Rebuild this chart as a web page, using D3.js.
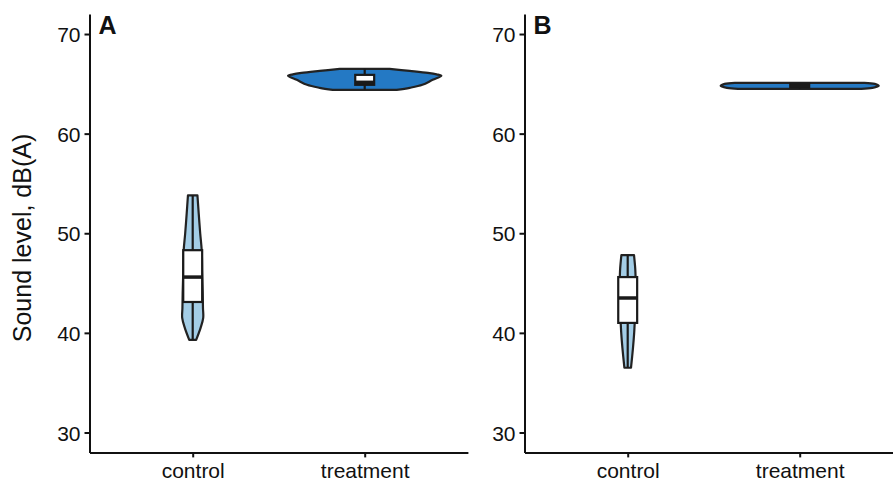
<!DOCTYPE html>
<html>
<head>
<meta charset="utf-8">
<script src="https://cdn.jsdelivr.net/npm/d3@7"></script>
<style>
  body { margin: 0; background: #fff; }
  text { font-family: "Liberation Sans", Arial, Helvetica, sans-serif; }
</style>
</head>
<body>
<svg width="893" height="483"></svg>
<script>
let categories = ['control', 'treatment'];
let panels = ['A', 'B'];
let yTicks = [30, 40, 50, 60, 70];

// violin profiles: [sound level, relative density]
let violinA_control = [[53.8, 0.06], [52, 0.076], [50, 0.095], [48.3, 0.114], [46, 0.12], [44, 0.127], [42.5, 0.13], [41.5, 0.133], [40.5, 0.10], [39.3, 0.044]];
let violinA_treatment = [[66.5, 0.316], [66.3, 0.57], [66.1, 0.80], [65.95, 0.91], [65.8, 0.97], [65.4, 0.86], [64.9, 0.73], [64.6, 0.57], [64.4, 0.405]];
let violinB_control = [[47.8, 0.08], [46.5, 0.095], [45.6, 0.10], [44, 0.108], [42, 0.10], [41, 0.089], [40, 0.082], [38.5, 0.067], [36.5, 0.042]];
let violinB_treatment = [[65.1, 0.82], [65.0, 0.95], [64.8, 1.0], [64.6, 0.92], [64.5, 0.78]];

// box stats: [min, q1, median, q3, max]
let boxA_control = [39.3, 43.1, 45.6, 48.3, 53.8];
let boxA_treatment = [64.4, 64.9, 65.15, 65.9, 66.5];
let boxB_control = [36.5, 41.0, 43.5, 45.6, 47.8];
let boxB_treatment = [64.5, 64.65, 64.85, 65.0, 65.1];

let fills = {control: '#a3cde6', treatment: '#2479c4'};

let violins = {A: [violinA_control, violinA_treatment], B: [violinB_control, violinB_treatment]};
let boxes = {A: [boxA_control, boxA_treatment], B: [boxB_control, boxB_treatment]};

let svg = d3.select('svg');

let y = d3.scaleLinear().domain([28, 72]).range([452.4, 14.1]);
let w = d3.scaleLinear().domain([0, 1]).range([0, 79]);

let panelX = {A: 89.5, B: 524.5};
let panelW = 378.4;
let fontSize = 21;

panels.forEach(p => {
  let x0 = panelX[p];
  let x = d3.scalePoint().domain(categories).range([x0, x0 + panelW]).padding(0.6);
  let step = x.step();
  let g = svg.append('g').attr('class', 'panel' + p);

  // violins
  categories.forEach((c, i) => {
    let cx = x(c);
    let area = d3.area()
      .curve(d3.curveCatmullRom)
      .y(d => y(d[0]))
      .x0(d => cx - w(d[1]))
      .x1(d => cx + w(d[1]));
    g.append('path')
      .attr('d', area(violins[p][i]) + 'Z')
      .style('fill', fills[c])
      .style('stroke', '#222')
      .style('stroke-width', '2.2px')
      .style('stroke-linejoin', 'round');

    let b = boxes[p][i];
    let bw = 0.11 * step;
    g.append('line')
      .attr('x1', cx).attr('x2', cx)
      .attr('y1', y(b[0])).attr('y2', y(b[4]))
      .style('stroke', '#1a1a1a').style('stroke-width', '2.2px');
    g.append('rect')
      .attr('x', cx - bw / 2)
      .attr('y', y(b[3]))
      .attr('width', bw)
      .attr('height', y(b[1]) - y(b[3]))
      .style('fill', '#fff')
      .style('stroke', '#1a1a1a')
      .style('stroke-width', '2.2px');
    g.append('line')
      .attr('x1', cx - bw / 2).attr('x2', cx + bw / 2)
      .attr('y1', y(b[2])).attr('y2', y(b[2]))
      .style('stroke', '#1a1a1a').style('stroke-width', '3.5px');
  });

  // y axis
  let yAxis = d3.axisLeft(y).tickValues(yTicks).tickSize(5).tickPadding(4).tickSizeOuter(0);
  let ya = g.append('g').attr('transform', `translate(${x0},0)`).call(yAxis);
  ya.select('.domain').style('stroke', '#111').style('stroke-width', '2px');
  ya.selectAll('.tick line').style('stroke', '#111').style('stroke-width', '2px');
  ya.selectAll('.tick text')
    .style('font-size', fontSize + 'px')
    .style('font-family', '"Liberation Sans", Arial, sans-serif')
    .style('fill', '#111')
    .attr('dy', '0.36em');

  // x axis
  let xAxis = d3.axisBottom(x).tickSize(5).tickPadding(6).tickSizeOuter(0);
  let xa = g.append('g').attr('transform', `translate(0,${y(28)})`).call(xAxis);
  xa.select('.domain').style('stroke', '#111').style('stroke-width', '2px');
  xa.selectAll('.tick line').style('stroke', '#111').style('stroke-width', '2px');
  xa.selectAll('.tick text')
    .style('font-size', fontSize + 'px')
    .style('font-family', '"Liberation Sans", Arial, sans-serif')
    .style('fill', '#111');

  // panel label
  g.append('text')
    .attr('x', x0 + 9)
    .attr('y', 34)
    .style('font-size', '25px')
    .style('font-weight', 'bold')
    .style('fill', '#111')
    .text(p);
});

svg.append('text')
  .attr('transform', 'translate(31,238) rotate(-90)')
  .attr('text-anchor', 'middle')
  .style('font-size', '25px')
  .style('fill', '#111')
  .text('Sound level, dB(A)');
</script>
</body>
</html>
